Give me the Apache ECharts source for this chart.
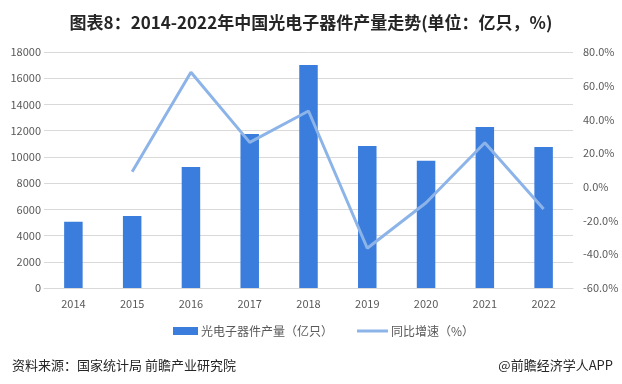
<!DOCTYPE html>
<html><head><meta charset="utf-8">
<script src="https://cdn.jsdelivr.net/npm/echarts@6/dist/echarts.min.js"></script>
<style>html,body{margin:0;padding:0;background:#fff}#c{width:622px;height:384px}</style>
</head><body><div id="c"></div>
<script>
const categories = ['2014','2015','2016','2017','2018','2019','2020','2021','2022'];
const output = [5050, 5500, 9230, 11750, 17000, 10830, 9710, 12280, 10750];
const growth = [null, 9.0, 68.0, 26.4, 45.0, -36.4, -9.4, 26.2, -13.1];
const leftTicks = {min: 0, max: 18000, interval: 2000};
const rightTicks = {min: -60, max: 80, interval: 20};
const barName = '光电子器件产量（亿只）';
const lineName = '同比增速（%）';

const F = '"Noto Sans CJK SC", "Noto Sans", sans-serif';
const chart = echarts.init(document.getElementById('c'));
chart.setOption({
  animation: false,
  textStyle: {fontFamily: F},
  title: [
    {text: '图表8：2014-2022年中国光电子器件产量走势(单位：亿只，%)', left: 'center', top: 9,
     textStyle: {fontSize: 17, fontWeight: 'bold', color: '#262626', fontFamily: F}},
    {text: '资料来源：国家统计局 前瞻产业研究院', left: 7, top: 354,
     textStyle: {fontSize: 13, fontWeight: 'normal', color: '#262626', fontFamily: F}},
    {text: '@前瞻经济学人APP', right: 4, top: 354,
     textStyle: {fontSize: 13, fontWeight: 'normal', color: '#262626', fontFamily: F}}
  ],
  legend: [
    {data: [barName], left: 168, top: 320, icon: 'rect', itemWidth: 25, itemHeight: 8, itemGap: 3,
     textStyle: {fontSize: 12, color: '#595959', fontFamily: F, padding: [0,0,0,-2]}},
    {data: [lineName], left: 352, top: 320, icon: 'rect', itemWidth: 31, itemHeight: 3,
     textStyle: {fontSize: 12, color: '#595959', fontFamily: F, padding: [0,0,0,-2]}}
  ],
  grid: {left: 44, right: 49, top: 52, bottom: 96},
  xAxis: {
    type: 'category', data: categories,
    axisLine: {lineStyle: {color: '#d9d9d9'}}, axisTick: {show: false},
    axisLabel: {color: '#595959', fontSize: 11, margin: 10, fontFamily: F}
  },
  yAxis: [
    {type: 'value', min: leftTicks.min, max: leftTicks.max, interval: leftTicks.interval,
     axisLine: {show: false}, axisTick: {show: false},
     axisLabel: {color: '#595959', fontSize: 11, margin: 3, fontFamily: F, formatter: v => String(v)},
     splitLine: {lineStyle: {color: '#d9d9d9'}}},
    {type: 'value', min: rightTicks.min, max: rightTicks.max, interval: rightTicks.interval,
     axisLine: {show: false}, axisTick: {show: false}, splitLine: {show: false},
     axisLabel: {color: '#595959', fontSize: 11, margin: 10, fontFamily: F,
       formatter: v => v.toFixed(1) + '%'}}
  ],
  series: [
    {name: barName, type: 'bar', data: output, barWidth: 18.5, yAxisIndex: 0,
     itemStyle: {color: '#3b7ddd'}},
    {name: lineName, type: 'line', data: growth, yAxisIndex: 1, showSymbol: false, symbol: 'none',
     lineStyle: {color: '#8db4e8', width: 3}, itemStyle: {color: '#8db4e8'}}
  ]
});
</script></body></html>
